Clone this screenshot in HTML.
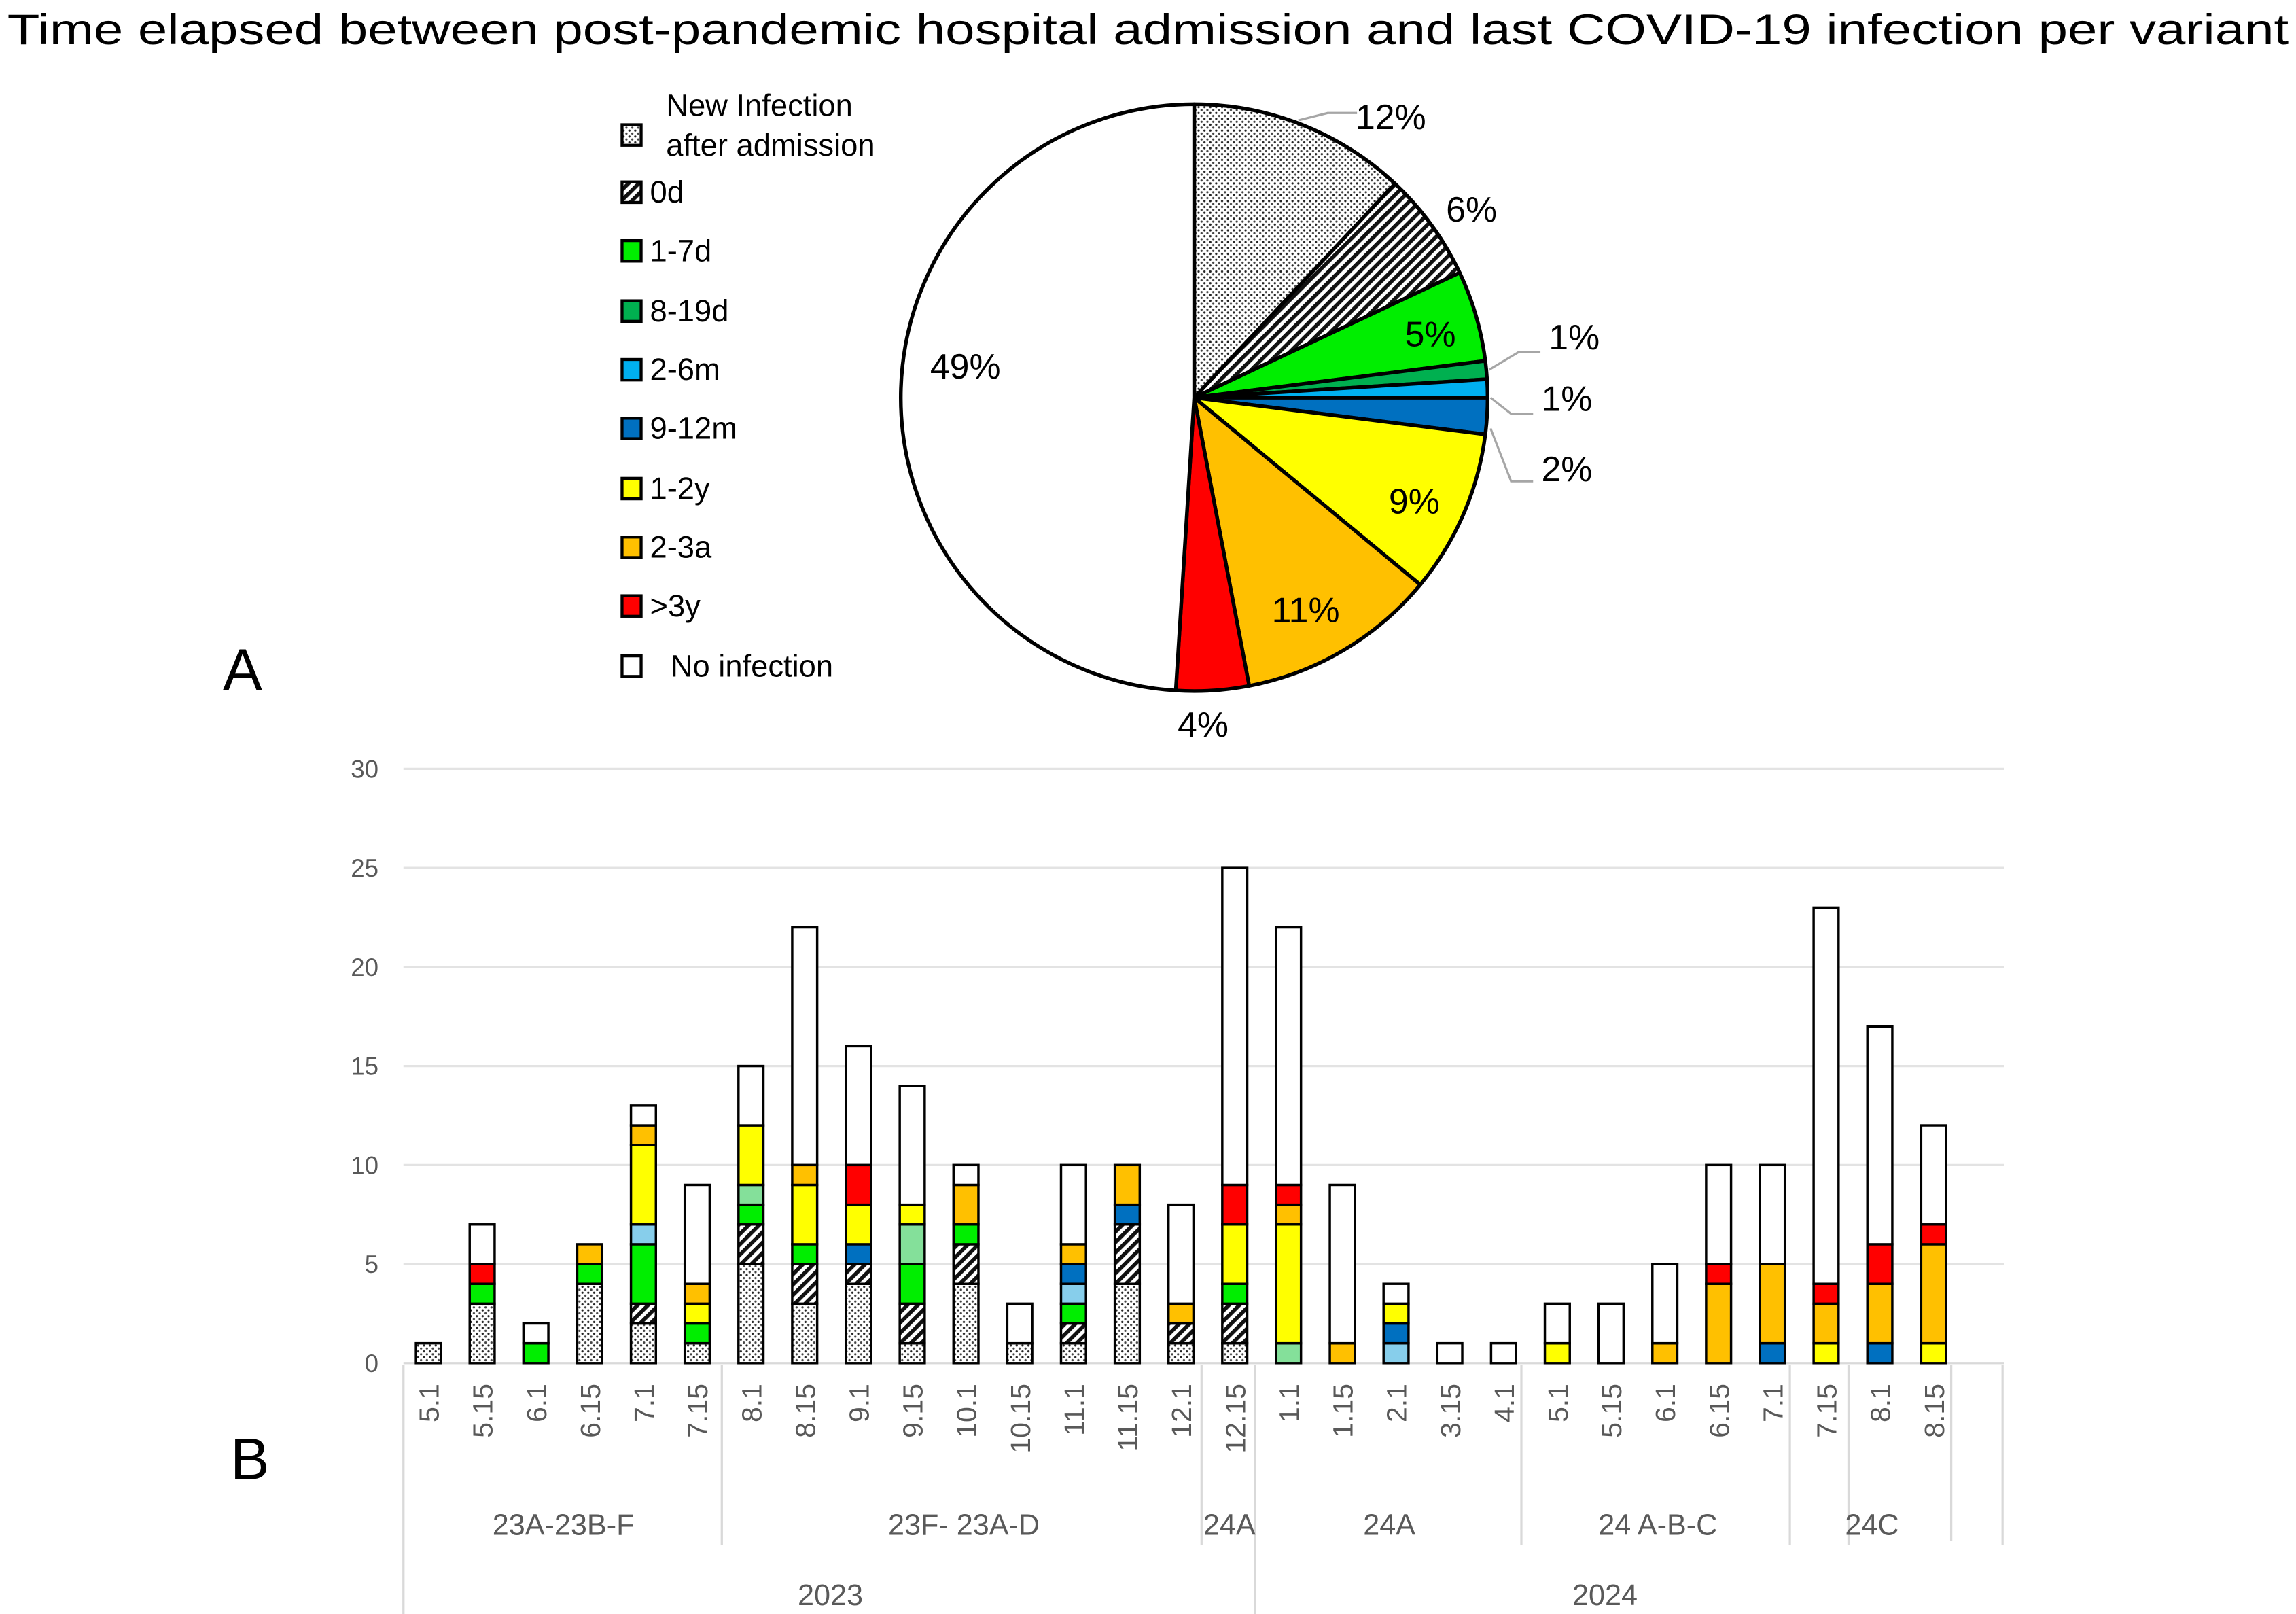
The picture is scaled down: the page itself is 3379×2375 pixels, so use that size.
<!DOCTYPE html>
<html><head><meta charset="utf-8"><style>
html,body{margin:0;padding:0;background:#fff}
svg{display:block;font-family:"Liberation Sans",sans-serif}
</style></head><body>
<svg id="s" width="3379" height="2375" viewBox="0 0 1565 1100" xmlns="http://www.w3.org/2000/svg">
<defs>
<pattern id="dots" width="4" height="4" patternUnits="userSpaceOnUse"><rect width="4" height="4" fill="#fff"/><circle cx="1" cy="1" r="0.75" fill="#222"/><circle cx="3" cy="3" r="0.75" fill="#444"/></pattern>
<pattern id="hatch" width="5" height="5" patternUnits="userSpaceOnUse" patternTransform="rotate(45)"><rect width="5" height="5" fill="#fff"/><rect width="2.6" height="5" fill="#111"/></pattern>
</defs>
<text x="5" y="30" font-size="29" textLength="1555" lengthAdjust="spacingAndGlyphs" fill="#000">Time elapsed between post-pandemic hospital admission and last COVID-19 infection per variant</text>
<text x="152" y="470" font-size="40">A</text>
<text x="157" y="1008" font-size="40">B</text>
<g id="pie"></g>
<g id="legend"></g>
<g id="bars"></g>
</svg>
<script>
const pieLabels=["New Infection after admission","0d","1-7d","8-19d","2-6m","9-12m","1-2y","2-3a",">3y","No infection"];
const pieValues=[12,6,5,1,1,2,9,11,4,49];
const pieFills=["url(#dots)","url(#hatch)","#00ee00","#00b050","#00b0f0","#0070c0","#ffff00","#ffc000","#ff0000","#ffffff"];
const barFills=["url(#dots)","url(#hatch)","#00ee00","#84e09a","#87ceeb","#0070c0","#ffff00","#ffc000","#ff0000","#ffffff"];
const categories=["5.1","5.15","6.1","6.15","7.1","7.15","8.1","8.15","9.1","9.15","10.1","10.15","11.1","11.15","12.1","12.15","1.1","1.15","2.1","3.15","4.1","5.1","5.15","6.1","6.15","7.1","7.15","8.1","8.15"];
const sNew =[1,3,0,4,2,1,5,3,4,1,4,1,1,4,1,1,0,0,0,0,0,0,0,0,0,0,0,0,0];
const s0d  =[0,0,0,0,1,0,2,2,1,2,2,0,1,3,1,2,0,0,0,0,0,0,0,0,0,0,0,0,0];
const s1_7 =[0,1,1,1,3,1,1,1,0,2,1,0,1,0,0,1,0,0,0,0,0,0,0,0,0,0,0,0,0];
const s8_19=[0,0,0,0,0,0,1,0,0,2,0,0,0,0,0,0,1,0,0,0,0,0,0,0,0,0,0,0,0];
const s2_6m=[0,0,0,0,1,0,0,0,0,0,0,0,1,0,0,0,0,0,1,0,0,0,0,0,0,0,0,0,0];
const s9_12=[0,0,0,0,0,0,0,0,1,0,0,0,1,1,0,0,0,0,1,0,0,0,0,0,0,1,0,1,0];
const s1_2y=[0,0,0,0,4,1,3,3,2,1,0,0,0,0,0,3,6,0,1,0,0,1,0,0,0,0,1,0,1];
const s2_3a=[0,0,0,1,1,1,0,1,0,0,2,0,1,2,1,0,1,1,0,0,0,0,0,1,4,4,2,3,5];
const s3y  =[0,1,0,0,0,0,0,0,2,0,0,0,0,0,0,2,1,0,0,0,0,0,0,0,1,0,1,2,1];
const sNone=[0,2,1,0,1,5,3,12,6,6,1,2,4,0,5,16,13,8,1,1,1,2,3,4,5,5,19,11,5];
const yTicks=[0,5,10,15,20,25,30];
const groups=[["23A-23B-F",0,5],["23F- 23A-D",6,14],["24A",15,15],["24A",16,20],["24 A-B-C",21,25],["24C",26,27]];
const years=[["2023",0,15],["2024",16,28]];
const NS="http://www.w3.org/2000/svg";
function mk(tag,attrs,parent,txt){const e=document.createElementNS(NS,tag);for(const k in attrs)e.setAttribute(k,attrs[k]);if(txt!==undefined)e.textContent=txt;parent.appendChild(e);return e;}
const pie=document.getElementById('pie');
const cx=814,cy=271,R=200;
const tot=pieValues.reduce((a,b)=>a+b,0);
let acc=0;
const labelPos=[[948,88],[1003,151],[975,236],[1073,238],[1068,280],[1068,328],[964,350],[890,424],[820,502],[658,258]];
pieValues.forEach((v,i)=>{
 const a0=acc/tot*2*Math.PI;acc+=v;const a1=acc/tot*2*Math.PI;
 const x0=cx+R*Math.sin(a0),y0=cy-R*Math.cos(a0),x1=cx+R*Math.sin(a1),y1=cy-R*Math.cos(a1);
 const p=mk('path',{d:`M${cx},${cy}L${x0},${y0}A${R},${R} 0 ${(a1-a0)>Math.PI?1:0} 1 ${x1},${y1}Z`,fill:pieFills[i],stroke:'#000','stroke-width':2.5,'stroke-linejoin':'round'},pie);
 
 
});
[[[925,77],[905,77],[885,82]],[[1050,240],[1035,240],[1015,252]],[[1045,282],[1030,282],[1016,271]],[[1045,328],[1030,328],[1016,292]]].forEach(pts=>{
 const l=mk('polyline',{points:pts.map(p=>p.join(',')).join(' '),fill:'none',stroke:'#a6a6a6','stroke-width':1.5},pie);
 
 
});
pieValues.forEach((v,i)=>{
 const t=mk('text',{x:labelPos[i][0],y:labelPos[i][1],'font-size':24,'text-anchor':'middle',fill:'#000'},pie,v+'%');
 
 
});
const lg=document.getElementById('legend');
const legY=[92,131,171,212,252,292,333,373,413,454];
pieLabels.forEach((n,i)=>{
 const g=mk('g',{},lg);
 
 
 mk('rect',{x:424,y:legY[i]-7,width:13,height:14,fill:pieFills[i],stroke:'#000','stroke-width':2},g);
 if(i===0){mk('text',{x:454,y:79,'font-size':21},g,'New Infection');mk('text',{x:454,y:106,'font-size':21},g,'after admission');}
 else mk('text',{x:i===9?457:443,y:legY[i]+7,'font-size':21},g,n);
});
const bars=document.getElementById('bars');
const series=[sNew,s0d,s1_7,s8_19,s2_6m,s9_12,s1_2y,s2_3a,s3y,sNone];
const X0=275,X1=1366,Y0=929,Y30=524;
const y=v=>Y0-(Y0-Y30)*v/30;
const xc=i=>292+i*(1318-292)/28;
yTicks.forEach(t=>{
 const l=mk('line',{x1:X0,x2:X1,y1:y(t),y2:y(t),stroke:t===0?'#d9d9d9':'#e3e3e3','stroke-width':1.5},bars);
 
 
 const tx=mk('text',{x:258,y:y(t)+6,'font-size':17,'text-anchor':'end',fill:'#595959'},bars,t);
 
 
});
categories.forEach((c,i)=>{
 let base=0;
 series.forEach((s,k)=>{
  const v=s[i];if(!v)return;
  const r=mk('rect',{x:xc(i)-8.5,y:y(base+v),width:17,height:y(base)-y(base+v),fill:barFills[k],stroke:'#000','stroke-width':1.6},bars);
  
  
  base+=v;
 });
 const t=mk('text',{x:0,y:0,'font-size':19,'text-anchor':'end',fill:'#595959',transform:`translate(${xc(i)+7},943) rotate(-90)`},bars,c);
 
 
});
[[275,930,275,1100],[492,930,492,1053],[819,930,819,1053],[855.5,930,855.5,1100],[1037,930,1037,1053],[1220,930,1220,1053],[1260,930,1260,1053],[1330,930,1330,1050],[1365,930,1365,1053]].forEach(p=>{
 const l=mk('line',{x1:p[0],y1:p[1],x2:p[2],y2:p[3],stroke:'#d9d9d9','stroke-width':1.5},bars);
 
 
});
const gx=[384,657,838,947,1130,1276];
groups.forEach((g,i)=>{
 const t=mk('text',{x:gx[i],y:1046,'font-size':20,'text-anchor':'middle',fill:'#595959'},bars,g[0]);
 
 
});
const yx=[566,1094];
years.forEach((g,i)=>{
 const t=mk('text',{x:yx[i],y:1094,'font-size':20,'text-anchor':'middle',fill:'#595959'},bars,g[0]);
 
 
});
</script>
</body></html>
